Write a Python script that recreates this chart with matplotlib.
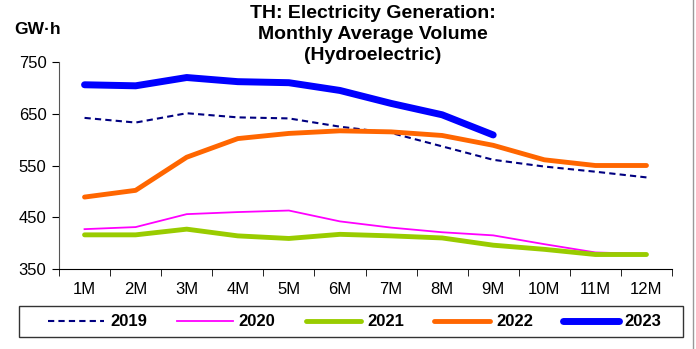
import matplotlib.pyplot as plt
from matplotlib.lines import Line2D
from matplotlib.patches import Rectangle
import numpy as np

plt.rcParams["font.family"] = ["Liberation Sans", "DejaVu Sans"]

months = ["1M", "2M", "3M", "4M", "5M", "6M", "7M", "8M", "9M", "10M", "11M", "12M"]
v2019 = [642, 633, 651, 643, 641, 625, 613, 587, 561, 548, 538, 527]
v2020 = [427, 431, 456, 460, 463, 442, 430, 421, 415, 398, 382, 379]
v2021 = [416, 416, 427, 414, 409, 417, 414, 410, 396, 388, 378, 378]
v2022 = [489, 502, 566, 602, 612, 617, 615, 608, 589, 561, 550, 550]
v2023 = [706, 704, 720, 712, 710, 695, 670, 648, 609]

fig = plt.figure(figsize=(6.96, 3.49), dpi=100)
ax = fig.add_axes([59 / 696, 1 - 269 / 349, 613 / 696, 207 / 349])

x = np.arange(len(months))
ax.plot(x, v2019, color="#000080", lw=1.5, ls=(0, (3, 2)), label="2019")
ax.plot(x, v2020, color="#FF00FF", lw=1.3, label="2020")
ax.plot(x, v2021, color="#99CC00", lw=3.5, solid_capstyle="round", label="2021")
ax.plot(x, v2022, color="#FF6600", lw=3.5, solid_capstyle="round", label="2022")
ax.plot(x[:len(v2023)], v2023, color="#0000FF", lw=5, solid_capstyle="round", label="2023")

ax.set_xlim(-0.5, len(months) - 0.5)
ax.set_ylim(350, 750)
ax.set_yticks([350, 450, 550, 650, 750])
ax.set_xticks(x)
ax.set_xticklabels(months)
ax.set_xticks(np.arange(-0.5, len(months)), minor=True)
ax.tick_params(axis="x", which="major", length=0, labelsize=12, pad=9)
ax.tick_params(axis="x", which="minor", length=5, direction="out")
ax.tick_params(axis="y", length=5, direction="out", labelsize=12, pad=4)
for s in ["top", "right"]:
    ax.spines[s].set_visible(False)
ax.spines["left"].set_color("#555555")

fig.text(373 / 696, 1 - 5 / 349, "TH: Electricity Generation:\nMonthly Average Volume\n(Hydroelectric)",
         ha="center", va="top", fontsize=14, fontweight="bold", linespacing=1.3)
fig.text(14 / 696, 1 - 30 / 349, "GW·h", ha="left", va="center", fontsize=12.5, fontweight="bold")

leg = fig.legend(loc="center", bbox_to_anchor=(355 / 696, 1 - 322 / 349), ncol=5,
                 prop={"weight": "bold", "size": 12}, frameon=False,
                 handlelength=3.35, columnspacing=1.8, handletextpad=0.36)
fig.add_artist(Rectangle((19 / 696, 1 - 337 / 349), 664 / 696, 31 / 349, transform=fig.transFigure,
                         fill=False, edgecolor="#333333", lw=1.0))

fig.add_artist(Line2D([693 / 696, 693 / 696], [0, 1], transform=fig.transFigure, color="#999999", lw=1))

fig.savefig("out.png", dpi=100)
